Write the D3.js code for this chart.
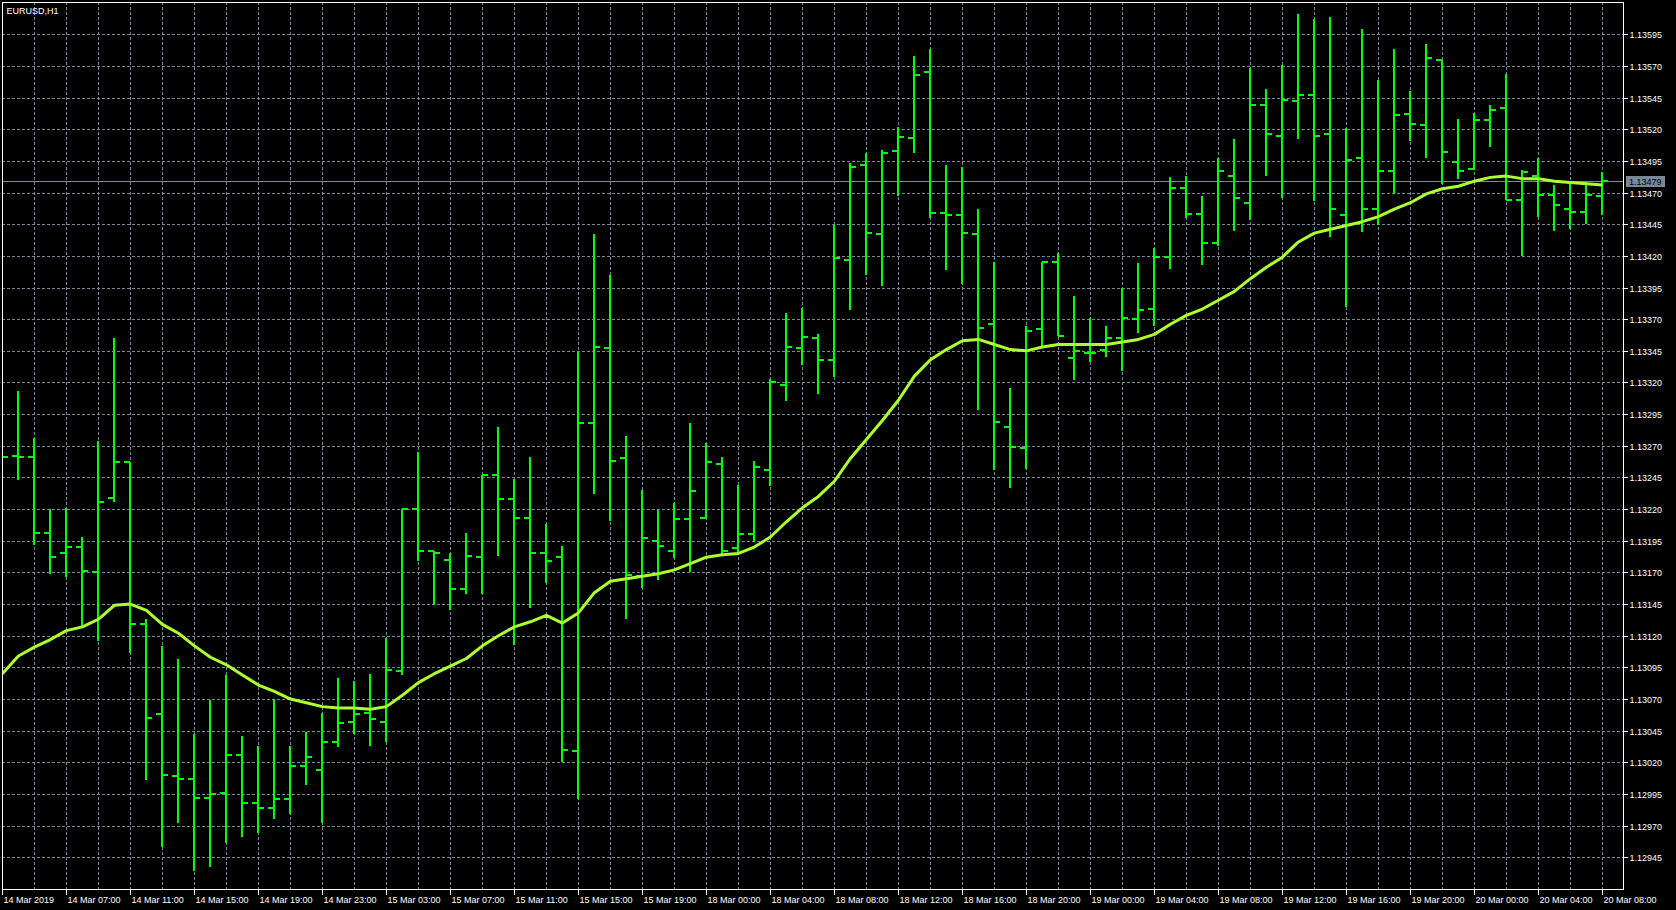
<!DOCTYPE html>
<html><head><meta charset="utf-8">
<script src="https://cdn.jsdelivr.net/npm/d3@7"></script>
<style>html,body{margin:0;padding:0;background:#000;overflow:hidden}</style>
</head><body>
<svg id="c" width="1676" height="910"></svg>
<script>
const symbolTitle = "EURUSD,H1";
const timeLabels = ["14 Mar 2019","14 Mar 07:00","14 Mar 11:00","14 Mar 15:00","14 Mar 19:00","14 Mar 23:00",
  "15 Mar 03:00","15 Mar 07:00","15 Mar 11:00","15 Mar 15:00","15 Mar 19:00","18 Mar 00:00","18 Mar 04:00",
  "18 Mar 08:00","18 Mar 12:00","18 Mar 16:00","18 Mar 20:00","19 Mar 00:00","19 Mar 04:00","19 Mar 08:00",
  "19 Mar 12:00","19 Mar 16:00","19 Mar 20:00","20 Mar 00:00","20 Mar 04:00","20 Mar 08:00"];
const labelEvery = 4;
const opens = [1.13262,1.13262,1.13261,1.13201,1.13185,1.13190,1.13170,1.13229,1.13257,1.13129,
  1.13058,1.13009,1.13007,1.12992,1.12996,1.13026,1.12988,1.12984,1.12991,1.13017,
  1.13014,1.13036,1.13052,1.13059,1.13052,1.13092,1.13220,1.13187,1.13180,1.13157,
  1.13182,1.13247,1.13228,1.13213,1.13185,1.13182,1.13029,1.13288,1.13347,1.13260,
  1.13167,1.13195,1.13187,1.13212,1.13213,1.13256,1.13189,1.13200,1.13251,1.13318,
  1.13347,1.13355,1.13338,1.13417,1.13492,1.13437,1.13503,1.13513,1.13565,1.13454,
  1.13452,1.13437,1.13366,1.13285,1.13268,1.13362,1.13415,1.13339,1.13343,1.13346,
  1.13355,1.13370,1.13378,1.13419,1.13474,1.13453,1.13430,1.13483,1.13462,1.13539,
  1.13515,1.13542,1.13547,1.13516,1.13452,1.13497,1.13457,1.13487,1.13532,1.13523,
  1.13575,1.13494,1.13489,1.13527,1.13537,1.13464,1.13483,1.13468,1.13457,1.13455,1.13467];
const highs = [1.13285,1.13313,1.13276,1.13220,1.13221,1.13198,1.13274,1.13355,1.13257,1.13133,
  1.13112,1.13102,1.13042,1.13069,1.13089,1.13041,1.13033,1.13070,1.13033,1.13044,
  1.13059,1.13087,1.13084,1.13090,1.13118,1.13220,1.13265,1.13187,1.13185,1.13201,
  1.13247,1.13285,1.13244,1.13261,1.13208,1.13191,1.13344,1.13437,1.13405,1.13278,
  1.13235,1.13219,1.13225,1.13288,1.13272,1.13261,1.13239,1.13258,1.13323,1.13375,
  1.13379,1.13358,1.13444,1.13493,1.13501,1.13504,1.13522,1.13578,1.13583,1.13492,
  1.13490,1.13457,1.13415,1.13316,1.13365,1.13415,1.13422,1.13388,1.13371,1.13365,
  1.13395,1.13414,1.13426,1.13482,1.13483,1.13467,1.13497,1.13512,1.13568,1.13552,
  1.13571,1.13611,1.13607,1.13609,1.13521,1.13599,1.13559,1.13583,1.13550,1.13587,
  1.13575,1.13528,1.13533,1.13539,1.13564,1.13488,1.13497,1.13476,1.13478,1.13478,1.13486];
const lows = [1.13245,1.13243,1.13192,1.13169,1.13166,1.13127,1.13116,1.13226,1.13106,1.13006,
  1.12953,1.12972,1.12934,1.12937,1.12956,1.12961,1.12964,1.12975,1.12979,1.13002,
  1.12972,1.13032,1.13042,1.13033,1.13036,1.13089,1.13179,1.13144,1.13140,1.13153,
  1.13153,1.13183,1.13113,1.13142,1.13162,1.13020,1.12991,1.13232,1.13211,1.13133,
  1.13158,1.13164,1.13181,1.13170,1.13213,1.13183,1.13184,1.13194,1.13238,1.13305,
  1.13334,1.13311,1.13324,1.13377,1.13405,1.13396,1.13467,1.13501,1.13450,1.13409,
  1.13398,1.13298,1.13251,1.13237,1.13252,1.13349,1.13357,1.13322,1.13336,1.13340,
  1.13329,1.13359,1.13365,1.13410,1.13450,1.13413,1.13428,1.13440,1.13448,1.13483,
  1.13466,1.13512,1.13463,1.13435,1.13380,1.13439,1.13444,1.13469,1.13511,1.13497,
  1.13477,1.13481,1.13488,1.13506,1.13464,1.13420,1.13451,1.13440,1.13441,1.13445,1.13452];
const closes = [1.13261,1.13261,1.13201,1.13182,1.13190,1.13171,1.13226,1.13257,1.13129,1.13055,
  1.13010,1.13007,1.12992,1.12995,1.13026,1.12988,1.12984,1.12991,1.13017,1.13024,
  1.13036,1.13051,1.13058,1.13054,1.13093,1.13220,1.13187,1.13185,1.13157,1.13183,
  1.13247,1.13228,1.13213,1.13185,1.13179,1.13030,1.13288,1.13348,1.13258,1.13168,
  1.13197,1.13191,1.13212,1.13234,1.13257,1.13187,1.13200,1.13253,1.13320,1.13348,
  1.13356,1.13338,1.13418,1.13490,1.13438,1.13501,1.13514,1.13563,1.13454,1.13452,
  1.13438,1.13363,1.13289,1.13269,1.13361,1.13415,1.13357,1.13345,1.13343,1.13355,
  1.13371,1.13377,1.13419,1.13474,1.13453,1.13430,1.13487,1.13466,1.13539,1.13516,
  1.13543,1.13547,1.13515,1.13457,1.13496,1.13457,1.13487,1.13531,1.13524,1.13576,
  1.13502,1.13487,1.13527,1.13535,1.13464,1.13486,1.13468,1.13460,1.13455,1.13468,1.13479];
const maValues = [1.13090,1.13104,1.13111,1.13117,1.13124,1.13127,1.13133,1.13144,1.13145,1.13140,
  1.13129,1.13122,1.13112,1.13103,1.13097,1.13089,1.13081,1.13076,1.13070,1.13067,
  1.13064,1.13063,1.13063,1.13062,1.13064,1.13073,1.13083,1.13090,1.13096,1.13102,
  1.13112,1.13120,1.13127,1.13131,1.13136,1.13130,1.13138,1.13154,1.13163,1.13165,
  1.13167,1.13169,1.13172,1.13177,1.13182,1.13184,1.13185,1.13190,1.13198,1.13210,
  1.13221,1.13230,1.13242,1.13260,1.13275,1.13290,1.13306,1.13325,1.13338,1.13346,
  1.13353,1.13354,1.13350,1.13346,1.13345,1.13348,1.13350,1.13350,1.13350,1.13350,
  1.13352,1.13354,1.13358,1.13366,1.13373,1.13378,1.13385,1.13392,1.13402,1.13411,
  1.13419,1.13431,1.13438,1.13441,1.13444,1.13447,1.13451,1.13457,1.13462,1.13469,
  1.13473,1.13475,1.13479,1.13482,1.13483,1.13481,1.13481,1.13479,1.13478,1.13477,1.13476];
const priceTicks = [1.12945,1.12970,1.12995,1.13020,1.13045,1.13070,1.13095,1.13120,1.13145,1.13170,
  1.13195,1.13220,1.13245,1.13270,1.13295,1.13320,1.13345,1.13370,1.13395,1.13420,1.13445,1.13470,
  1.13495,1.13520,1.13545,1.13570,1.13595];
const lastPrice = 1.13479;

const svg = d3.select("#c");
const L = 2, T = 2, R = 1623, B = 889;
const n = closes.length;
const x = d3.scaleLinear().domain([0, n - 1]).range([2.4, 2.4 + 16 * (n - 1)]);
const y = d3.scaleLinear().domain([1.12945, 1.13595]).range([857.3, 34.3]);
const gridCol = "#778899";
const font = "'Liberation Sans', Arial, sans-serif";

svg.append("defs").append("clipPath").attr("id", "plot")
  .append("rect").attr("x", L).attr("y", T).attr("width", R - L).attr("height", B - T);

svg.append("rect").attr("width", 1676).attr("height", 910).attr("fill", "#000");

// grid
const g = svg.append("g").attr("shape-rendering", "crispEdges");
g.selectAll("line.v").data(d3.range(2, n, 2)).join("line")
  .attr("x1", i => Math.round(x(i)) + 0.5).attr("x2", i => Math.round(x(i)) + 0.5)
  .attr("y1", T).attr("y2", B)
  .attr("stroke", gridCol).attr("stroke-dasharray", "3,2");
g.selectAll("line.h").data(priceTicks).join("line")
  .attr("x1", L).attr("x2", R)
  .attr("y1", p => Math.round(y(p)) + 0.5).attr("y2", p => Math.round(y(p)) + 0.5)
  .attr("stroke", gridCol).attr("stroke-dasharray", "3,2");

// last price line
svg.append("line").attr("shape-rendering", "crispEdges")
  .attr("x1", L).attr("x2", R)
  .attr("y1", Math.round(y(lastPrice)) + 0.5).attr("y2", Math.round(y(lastPrice)) + 0.5)
  .attr("stroke", gridCol);

// OHLC bars
const plot = svg.append("g").attr("clip-path", "url(#plot)");
const bars = plot.append("g").attr("fill", "#00ff00").attr("shape-rendering", "crispEdges");
const idx = d3.range(n);
bars.selectAll("rect.hl").data(idx).join("rect")
  .attr("x", i => Math.round(x(i)) - 1).attr("width", 2)
  .attr("y", i => Math.round(y(highs[i])))
  .attr("height", i => Math.max(1, Math.round(y(lows[i])) - Math.round(y(highs[i]))));
bars.selectAll("rect.o").data(idx).join("rect")
  .attr("x", i => Math.round(x(i)) - 6).attr("width", 6)
  .attr("y", i => Math.round(y(opens[i])) - 1).attr("height", 2);
bars.selectAll("rect.c").data(idx).join("rect")
  .attr("x", i => Math.round(x(i))).attr("width", 6)
  .attr("y", i => Math.round(y(closes[i])) - 1).attr("height", 2);

// moving average
plot.append("path")
  .attr("d", d3.line().x((d, i) => x(i)).y(d => y(d))(maValues))
  .attr("fill", "none").attr("stroke", "#adff2f").attr("stroke-width", 3)
  .attr("stroke-linejoin", "round");

// frame
svg.append("rect").attr("shape-rendering", "crispEdges")
  .attr("x", L + 0.5).attr("y", T + 0.5).attr("width", R - L).attr("height", B - T)
  .attr("fill", "none").attr("stroke", "#fff");

// y axis
const ya = svg.append("g");
ya.selectAll("line").data(priceTicks).join("line").attr("shape-rendering", "crispEdges")
  .attr("x1", R).attr("x2", R + 5)
  .attr("y1", p => Math.round(y(p)) + 0.5).attr("y2", p => Math.round(y(p)) + 0.5)
  .attr("stroke", "#fff");
ya.selectAll("text").data(priceTicks).join("text")
  .attr("x", R + 6.5).attr("y", p => Math.round(y(p)) + 4)
  .attr("fill", "#fff").attr("font-family", font).attr("font-size", 9)
  .text(p => p.toFixed(5));

// current price label
const lp = Math.round(y(lastPrice));
svg.append("rect").attr("x", 1626).attr("y", lp - 5).attr("width", 39).attr("height", 11).attr("fill", "#778899");
svg.append("text").attr("x", 1629).attr("y", lp + 4).attr("fill", "#000")
  .attr("font-family", font).attr("font-size", 9).text(lastPrice.toFixed(5));

// x axis
const xa = svg.append("g");
const xt = timeLabels.map((t, k) => ({t, i: k * labelEvery}));
xa.selectAll("line").data(xt).join("line").attr("shape-rendering", "crispEdges")
  .attr("x1", d => Math.round(x(d.i)) + 0.5).attr("x2", d => Math.round(x(d.i)) + 0.5)
  .attr("y1", B).attr("y2", B + 6).attr("stroke", "#fff");
xa.selectAll("text").data(xt).join("text")
  .attr("x", d => Math.round(x(d.i)) + 1.5).attr("y", 903)
  .attr("fill", "#fff").attr("font-family", font).attr("font-size", 9)
  .text(d => d.t);

// title
svg.append("text").attr("x", 6.5).attr("y", 13.5).attr("fill", "#fff")
  .attr("font-family", font).attr("font-size", 9).text(symbolTitle);
</script>
</body></html>
